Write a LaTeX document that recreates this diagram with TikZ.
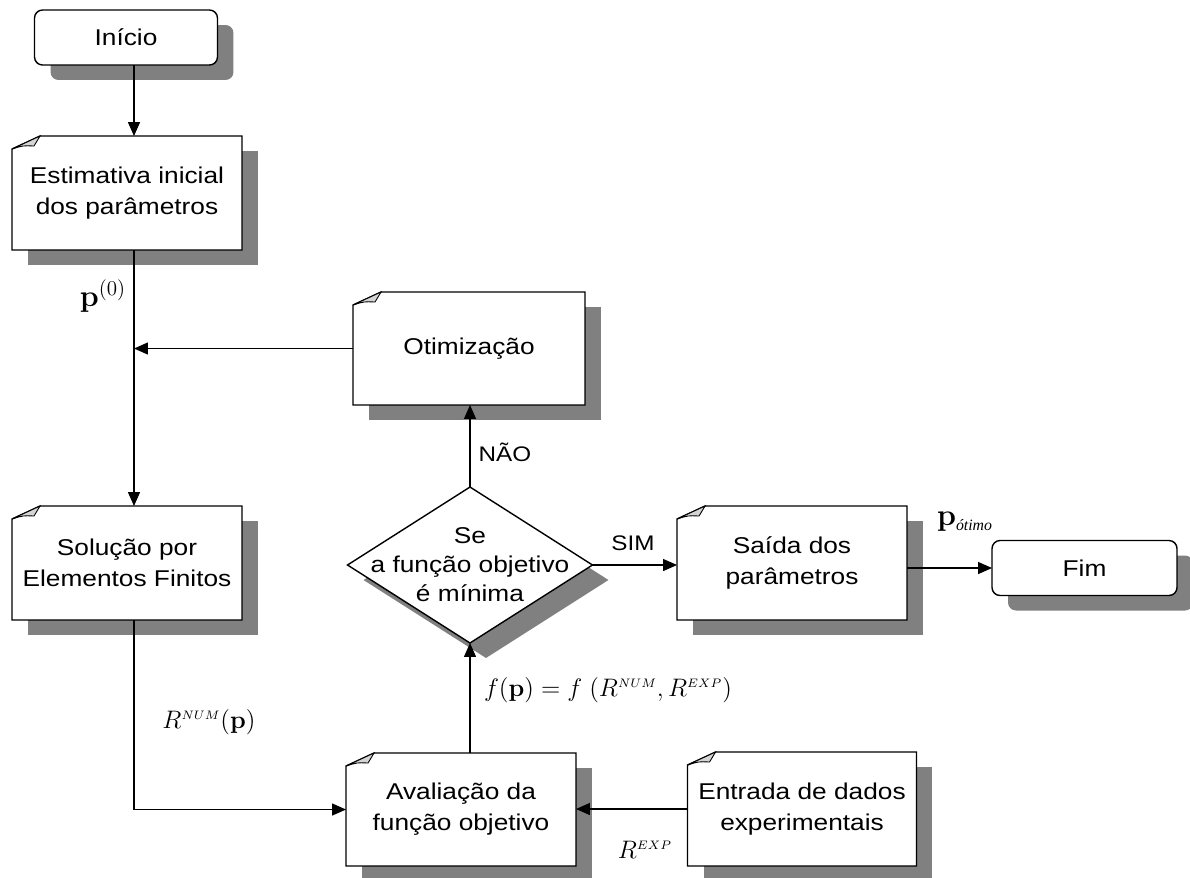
\documentclass[tikz,border=0pt]{standalone}
\usepackage[no-math]{fontspec}
\setmainfont{Liberation Sans}[FakeStretch=1.15]
\newfontfamily\serifit{Liberation Serif}
\usetikzlibrary{arrows.meta,shapes.geometric,shadows}

\definecolor{shade}{HTML}{808080}
\definecolor{foldgray}{HTML}{D4D4D4}

\tikzset{
  shadowed/.style={drop shadow={shadow xshift=0.32cm,shadow yshift=-0.3cm,fill=shade,opacity=1}},
  boxtext/.style={align=center,font=\fontsize{13}{17.5}\selectfont},
  termbox/.style={draw,rounded corners=0.16cm,fill=white,line width=0.8pt,boxtext,shadowed,
    minimum width=3.66cm,minimum height=1.1cm,outer sep=0pt},
  docbox/.style={fill=white,boxtext,shadowed,minimum width=4.6cm,minimum height=2.28cm,outer sep=0pt},
  decision/.style={diamond,draw,fill=white,line width=0.8pt,shadowed,
    minimum width=4.9cm,minimum height=3.12cm,inner sep=0pt,outer sep=0pt},
  arr/.style={line width=0.8pt,-{Triangle[length=0.28cm,width=0.24cm]}},
  mathlabel/.style={font=\fontsize{14}{16}\selectfont},
  smalllabel/.style={font=\fontsize{12}{14}\selectfont}
}

% document outline with the folded corner
\newcommand{\docoutline}[1]{%
  \draw[line width=0.8pt] ([yshift=-0.26cm]#1.north west) -- ([xshift=0.56cm]#1.north west)
    -- (#1.north east) -- (#1.south east) -- (#1.south west) -- cycle;
  \filldraw[fill=foldgray,line width=0.5pt] ([yshift=-0.26cm]#1.north west)
    .. controls ([xshift=0.22cm,yshift=-0.19cm]#1.north west) .. ([xshift=0.44cm,yshift=-0.2cm]#1.north west)
    -- ([xshift=0.56cm]#1.north west) -- cycle;}

\begin{document}
\begin{tikzpicture}[x=0.02cm,y=-0.02cm]
\useasboundingbox (0,0) rectangle (1190,877);

% terminals
\node[termbox] (inicio) at (126,37.5) {Início};
\node[termbox,minimum width=3.7cm] (fim) at (1084.5,568) {Fim};

% documents
\node[docbox] (est) at (127,193) {Estimativa inicial\\dos parâmetros};
\node[docbox] (sol) at (127,563) {Solução por\\Elementos Finitos};
\node[docbox,minimum width=4.64cm,minimum height=2.26cm] (otim) at (469,348.5) {Otimização};
\node[docbox] (said) at (792,563) {Saída dos\\parâmetros};
\node[docbox,minimum height=2.26cm] (aval) at (461,809.5) {Avaliação da\\função objetivo};
\node[docbox,minimum width=4.58cm] (entr) at (802,809) {Entrada de dados\\experimentais};
\docoutline{est}
\docoutline{sol}
\docoutline{otim}
\docoutline{said}
\docoutline{aval}
\docoutline{entr}

% decision
\node[decision] (dec) at (470,565) {};
\node[boxtext,font=\fontsize{13}{16.5}\selectfont] (dectxt) at (dec.center) {Se\\a função objetivo\\é mínima};

% connectors
\coordinate (colA) at (134,0);
\draw[arr] (inicio.south -| colA) -- (est.north -| colA);
\draw[arr] (est.south -| colA) -- (sol.north -| colA);
\draw[arr] (otim.west) -- (otim.west -| colA);
\draw[arr] (dec.north) -- (otim.south -| dec.north);
\draw[arr] (dec.east) -- (said.west |- dec.east);
\draw[arr] (said.east |- fim.west) -- (fim.west);
\draw[arr] (sol.south -| colA) |- (aval.west);
\draw[arr] (entr.west) -- (entr.west -| aval.east);
\draw[arr] (aval.north -| dec.south) -- (dec.south);

% labels
\node[font=\fontsize{18}{20}\selectfont] (lp0) at (103,296) {$\mathbf{p}^{(0)}$};
\node[mathlabel] (lrnum) at (209,722) {$R^{\scriptscriptstyle NUM}\big(\mathbf{p}\big)$};
\node[mathlabel] (lf) at (608,690) {$f(\mathbf{p})=f\;\Big(R^{\scriptscriptstyle NUM},R^{\scriptscriptstyle EXP}\Big)$};
\node[mathlabel] (lrexp) at (645,850) {$R^{\scriptscriptstyle EXP}$};
\node[font=\fontsize{18}{20}\selectfont] (lpot) at (965,522) {$\mathbf{p}_{\hbox{\serifit\itshape\fontsize{9}{10}\selectfont ótimo}}$};
\node[smalllabel] (lnao) at (505,452) {NÃO};
\node[smalllabel] (lsim) at (633,543) {SIM};
\end{tikzpicture}
\end{document}
